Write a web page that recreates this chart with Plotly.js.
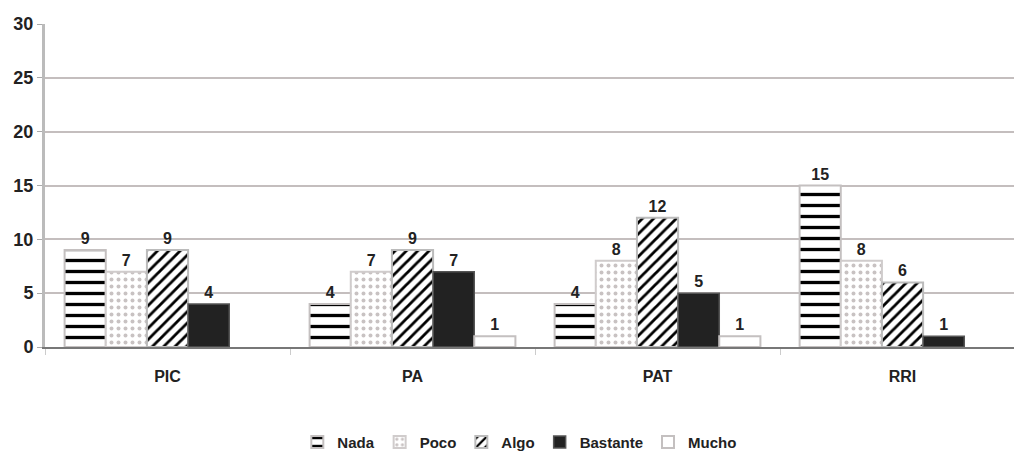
<!DOCTYPE html>
<html>
<head>
<meta charset="utf-8">
<script src="https://cdn.plot.ly/plotly-3.0.1.min.js"></script>
<style>html,body{margin:0;padding:0;background:#fff;}#chart{width:1014px;height:459px;}</style>
</head>
<body>
<div id="chart"></div>
<script>
const categories = ["PIC", "PA", "PAT", "RRI"];
const nada = [9, 4, 4, 15];
const poco = [7, 7, 8, 8];
const algo = [9, 9, 12, 6];
const bastante = [4, 7, 5, 1];
const mucho = [null, 1, 1, null];
const yTicks = [0, 5, 10, 15, 20, 25, 30];

const labelFont = {family: "Liberation Sans, Arial, sans-serif", size: 16, color: "#222", weight: "bold"};

function mk(name, vals, marker) {
  return {
    type: "bar", name: name, x: categories, y: vals,
    text: vals.map(v => v == null ? "" : String(v)),
    textposition: "outside", cliponaxis: false,
    textfont: labelFont,
    marker: marker,
    hoverinfo: "none"
  };
}

const data = [
  mk("Nada", nada, {color: "#fff", line: {color: "#c4c0c0", width: 2},
    pattern: {shape: "-", fgcolor: "#000", fgopacity: 1, bgcolor: "#fff", size: 11, solidity: 0.3, fillmode: "replace"}}),
  mk("Poco", poco, {color: "#fff", line: {color: "#d0cccc", width: 2},
    pattern: {shape: ".", fgcolor: "#c8c2c2", fgopacity: 1, bgcolor: "#fff", size: 7, solidity: 0.25, fillmode: "replace"}}),
  mk("Algo", algo, {color: "#fff", line: {color: "#bbb", width: 2},
    pattern: {shape: "/", fgcolor: "#000", fgopacity: 1, bgcolor: "#fff", size: 8, solidity: 0.35, fillmode: "replace"}}),
  mk("Bastante", bastante, {color: "#222", line: {color: "#555", width: 1.5}}),
  mk("Mucho", mucho, {color: "#fff", line: {color: "#c4c0c0", width: 2}})
];

const layout = {
  width: 1014, height: 459,
  margin: {l: 45, r: 0, t: 24, b: 110},
  paper_bgcolor: "#fff", plot_bgcolor: "#fff",
  barmode: "group", bargap: 0.16, bargroupgap: 0,
  showlegend: true,
  legend: {orientation: "h", x: 0.49, xanchor: "center", y: -0.295, yanchor: "middle",
    font: {family: "Liberation Sans, Arial, sans-serif", size: 15, color: "#222", weight: "bold"},
    itemwidth: 30, traceorder: "normal"},
  font: {family: "Liberation Sans, Arial, sans-serif", color: "#222"},
  xaxis: {
    type: "category", range: [-0.5, 3.455],
    tickson: "boundaries", ticks: "outside", ticklen: 6, tickcolor: "#ccc",
    showline: true, linecolor: "#777", linewidth: 2,
    showgrid: false, ticklabelstandoff: 14,
    tickfont: {family: "Liberation Sans, Arial, sans-serif", size: 16, color: "#222", weight: "bold"}
  },
  yaxis: {
    range: [0, 30], tickvals: yTicks, ticktext: yTicks.map(String),
    ticks: "outside", ticklen: 5, tickcolor: "#aaa",
    showline: true, linecolor: "#bbb", linewidth: 3,
    showgrid: true, gridcolor: "#c4bebe", gridwidth: 2, zeroline: false,
    tickfont: {family: "Liberation Sans, Arial, sans-serif", size: 18, color: "#222", weight: "bold"}
  }
};

Plotly.newPlot("chart", data, layout, {staticPlot: true, displayModeBar: false});
</script>
</body>
</html>
